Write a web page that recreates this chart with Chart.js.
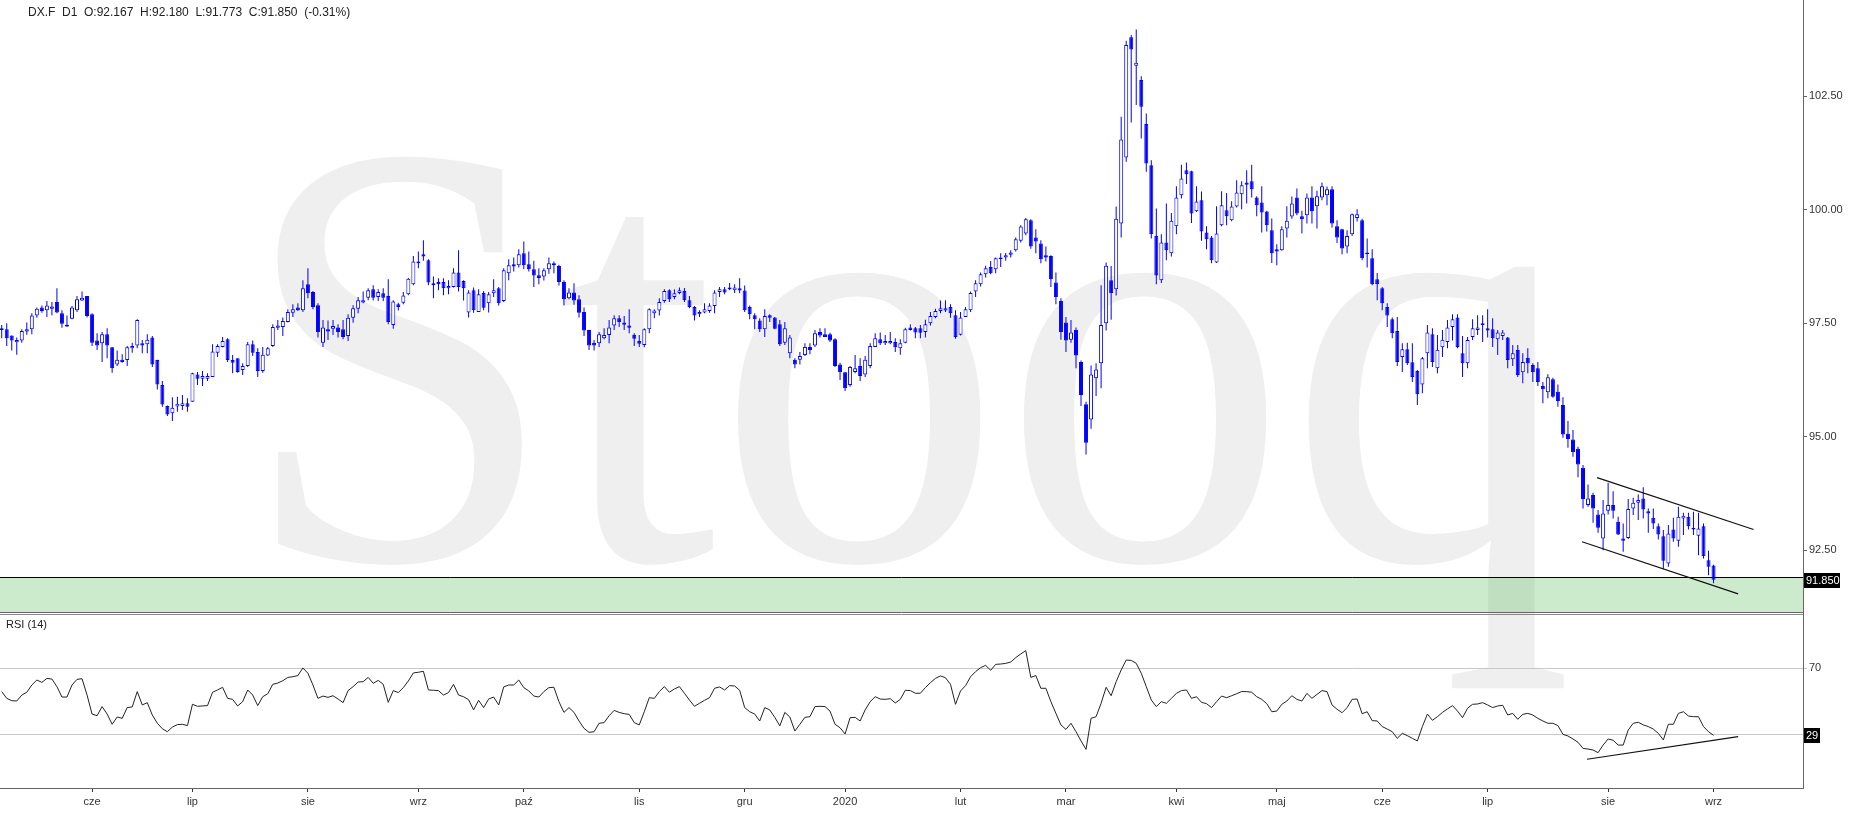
<!DOCTYPE html>
<html>
<head>
<meta charset="utf-8">
<title>DX.F D1</title>
<script src="https://cdn.jsdelivr.net/npm/chart.js@4.4.1/dist/chart.umd.min.js"></script>
<style>
  html, body { margin: 0; padding: 0; background: #fff; overflow: hidden; }
  #wrap { position: relative; width: 1863px; height: 818px; }
  #priceChart { position: absolute; left: 0; top: 0; }
  #rsiChart { position: absolute; left: 0; top: 614px; }
</style>
</head>
<body>
<div id="wrap">
  <canvas id="priceChart" width="1863" height="818"></canvas>
  <canvas id="rsiChart" width="1863" height="204"></canvas>
</div>
<script>
// DX.F daily, one value per session
const openVals = [
  97.35, 97.37, 97.23, 97.08, 97.12, 97.32, 97.37, 97.67, 97.85, 97.79,
  97.82, 97.97, 97.72, 97.43, 97.60, 97.79, 98.00, 98.10, 97.70, 97.12,
  97.06, 97.26, 96.97, 96.59, 96.70, 96.69, 96.95, 97.01, 97.06, 97.04,
  97.19, 96.69, 96.14, 95.68, 95.52, 95.67, 95.68, 95.74, 95.77, 96.37,
  96.28, 96.28, 96.32, 96.85, 96.98, 97.15, 96.69, 96.73, 96.47, 96.56,
  97.04, 96.87, 96.45, 96.79, 97.00, 97.40, 97.42, 97.53, 97.73, 97.85,
  97.79, 98.36, 98.19, 97.90, 97.07, 97.37, 97.38, 97.41, 97.37, 97.22,
  97.62, 97.82, 97.96, 98.06, 98.25, 98.08, 98.16, 98.10, 97.46, 97.92,
  97.95, 98.14, 98.36, 98.82, 99.02, 98.89, 98.34, 98.41, 98.41, 98.27,
  98.30, 98.62, 98.43, 97.74, 98.23, 97.75, 98.17, 97.94, 98.16, 98.27,
  97.99, 98.60, 98.80, 98.78, 99.04, 98.80, 98.69, 98.56, 98.53, 98.69,
  98.78, 98.76, 98.41, 98.05, 98.18, 98.03, 97.75, 97.35, 97.07, 97.06,
  97.17, 97.24, 97.45, 97.61, 97.52, 97.45, 97.25, 97.11, 97.02, 97.37,
  97.72, 97.78, 97.99, 98.23, 98.08, 98.17, 98.21, 98.01, 97.86, 97.70,
  97.74, 97.77, 97.88, 98.19, 98.25, 98.25, 98.23, 98.27, 98.22, 97.86,
  97.68, 97.56, 97.37, 97.68, 97.63, 97.48, 97.07, 96.84, 96.70, 96.70,
  96.80, 96.98, 97.01, 97.31, 97.26, 97.26, 97.15, 96.59, 96.42, 96.14,
  96.43, 96.56, 96.37, 96.56, 96.98, 97.15, 97.06, 97.06, 97.09, 96.95,
  97.07, 97.41, 97.39, 97.39, 97.31, 97.50, 97.64, 97.77, 97.78, 97.86,
  97.68, 97.25, 97.64, 97.79, 98.20, 98.36, 98.58, 98.74, 98.69, 98.91,
  98.95, 99.01, 99.11, 99.32, 99.48, 99.77, 99.39, 99.26, 99.00, 98.98,
  98.40, 97.99, 97.52, 97.14, 97.35, 96.65, 95.72, 95.38, 96.29, 96.62,
  97.50, 98.45, 98.25, 99.70, 101.15, 103.80, 103.17, 102.86, 101.89, 100.98,
  99.43, 98.45, 99.28, 99.04, 99.64, 100.32, 100.87, 100.85, 99.97, 100.21,
  99.50, 99.39, 98.84, 99.66, 99.99, 99.77, 100.07, 100.34, 100.60, 100.63,
  100.27, 100.16, 99.96, 99.55, 99.13, 99.11, 99.59, 99.85, 100.27, 99.86,
  99.88, 100.27, 100.08, 100.27, 100.32, 100.45, 99.64, 99.57, 99.19, 99.46,
  99.82, 99.77, 99.02, 98.93, 98.47, 98.27, 97.86, 97.59, 97.33, 96.76,
  96.93, 96.64, 96.45, 96.15, 96.84, 97.26, 96.51, 96.97, 97.09, 97.42,
  97.63, 96.84, 96.62, 97.20, 97.35, 97.46, 97.39, 97.37, 97.15, 97.22,
  97.19, 96.71, 96.91, 96.42, 96.74, 96.58, 96.51, 96.12, 95.98, 96.27,
  95.99, 95.70, 95.07, 94.94, 94.74, 94.32, 93.50, 93.72, 93.29, 92.76,
  93.37, 93.50, 93.13, 92.76, 92.77, 93.42, 93.55, 93.64, 93.36, 93.22,
  93.03, 92.81, 92.21, 92.96, 92.71, 93.20, 93.24, 93.00, 92.82, 93.03,
  92.28, 92.167
];
const highVals = [
  97.46, 97.50, 97.23, 97.19, 97.37, 97.52, 97.72, 97.85, 97.89, 97.99,
  97.97, 98.27, 97.79, 97.67, 97.88, 98.10, 98.20, 98.10, 97.72, 97.28,
  97.31, 97.39, 96.98, 96.90, 96.82, 97.00, 97.07, 97.59, 97.13, 97.26,
  97.22, 96.70, 96.23, 95.69, 95.87, 95.88, 95.92, 95.85, 96.41, 96.43,
  96.45, 96.40, 97.04, 97.04, 97.20, 97.17, 96.80, 96.73, 96.62, 97.09,
  97.12, 96.95, 96.98, 96.98, 97.48, 97.57, 97.63, 97.81, 97.92, 97.94,
  98.45, 98.71, 98.21, 97.94, 97.57, 97.56, 97.57, 97.48, 97.57, 97.70,
  97.90, 98.08, 98.20, 98.27, 98.34, 98.25, 98.27, 98.47, 98.01, 97.95,
  98.19, 98.50, 98.98, 99.08, 99.33, 98.91, 98.53, 98.49, 98.49, 98.45,
  98.71, 99.11, 98.45, 98.23, 98.29, 98.25, 98.21, 98.19, 98.47, 98.30,
  98.71, 98.91, 98.95, 99.13, 99.30, 99.08, 98.88, 98.71, 98.71, 98.95,
  98.86, 98.79, 98.45, 98.27, 98.38, 98.12, 97.85, 97.36, 97.13, 97.31,
  97.39, 97.57, 97.68, 97.68, 97.66, 97.81, 97.28, 97.24, 97.39, 97.83,
  97.81, 98.05, 98.25, 98.25, 98.25, 98.29, 98.28, 98.10, 97.88, 97.79,
  97.94, 97.94, 98.23, 98.30, 98.30, 98.39, 98.36, 98.49, 98.33, 97.89,
  97.72, 97.61, 97.81, 97.70, 97.64, 97.57, 97.53, 97.24, 96.73, 96.87,
  97.06, 97.06, 97.35, 97.39, 97.39, 97.29, 97.17, 96.63, 96.43, 96.56,
  96.80, 96.73, 96.78, 97.06, 97.28, 97.30, 97.24, 97.31, 97.17, 97.15,
  97.40, 97.48, 97.42, 97.46, 97.58, 97.75, 97.82, 98.00, 98.01, 97.92,
  97.79, 97.75, 97.86, 98.20, 98.45, 98.62, 98.77, 98.87, 98.95, 99.04,
  99.05, 99.11, 99.39, 99.66, 99.82, 99.79, 99.57, 99.33, 99.19, 99.00,
  98.62, 98.05, 97.64, 97.57, 97.41, 96.68, 95.77, 96.57, 96.62, 98.34,
  98.84, 98.76, 100.07, 102.05, 103.72, 103.85, 103.97, 102.94, 102.12, 101.09,
  100.03, 99.46, 100.14, 99.93, 100.52, 100.99, 101.04, 100.86, 100.52, 100.40,
  99.64, 99.42, 100.08, 100.41, 100.37, 100.19, 100.65, 100.63, 100.87, 100.99,
  100.30, 100.52, 99.98, 99.81, 99.24, 99.64, 100.08, 100.29, 100.47, 99.98,
  100.36, 100.52, 100.42, 100.60, 100.51, 100.52, 99.77, 99.58, 99.55, 99.92,
  100.01, 99.80, 99.37, 99.13, 98.61, 98.30, 97.94, 97.63, 97.64, 97.06,
  97.07, 97.06, 96.47, 96.76, 97.46, 97.39, 97.24, 97.35, 97.57, 97.70,
  97.70, 97.22, 97.20, 97.59, 97.68, 97.68, 97.81, 97.61, 97.35, 97.35,
  97.20, 97.02, 97.02, 96.84, 96.95, 96.62, 96.65, 96.21, 96.38, 96.30,
  96.15, 95.87, 95.35, 95.15, 94.78, 94.38, 93.95, 93.77, 93.39, 93.61,
  93.99, 93.80, 93.24, 93.09, 93.63, 93.66, 93.73, 93.89, 93.42, 93.42,
  93.09, 92.95, 93.06, 93.22, 93.46, 93.33, 93.33, 93.35, 93.33, 93.09,
  92.49, 92.180
];
const lowVals = [
  97.17, 97.00, 96.90, 96.81, 97.07, 97.25, 97.26, 97.62, 97.73, 97.64,
  97.68, 97.72, 97.40, 97.42, 97.59, 97.75, 97.99, 97.63, 97.00, 96.91,
  96.65, 96.73, 96.41, 96.56, 96.63, 96.56, 96.85, 96.95, 96.84, 96.84,
  96.54, 96.04, 95.66, 95.46, 95.35, 95.55, 95.59, 95.55, 95.77, 96.14,
  96.12, 96.23, 96.32, 96.76, 96.97, 96.65, 96.40, 96.41, 96.36, 96.54,
  96.78, 96.32, 96.41, 96.78, 96.98, 97.35, 97.22, 97.52, 97.64, 97.77,
  97.75, 98.05, 97.81, 97.19, 96.98, 97.13, 97.24, 97.19, 97.15, 97.11,
  97.51, 97.72, 97.94, 98.01, 98.00, 97.99, 97.99, 97.48, 97.38, 97.78,
  97.92, 98.12, 98.34, 98.71, 98.88, 98.34, 98.05, 98.23, 98.12, 98.14,
  98.29, 98.20, 98.00, 97.63, 97.73, 97.75, 97.79, 97.74, 98.08, 97.89,
  97.97, 98.45, 98.64, 98.73, 98.69, 98.64, 98.30, 98.36, 98.44, 98.59,
  98.60, 98.33, 97.89, 98.03, 97.91, 97.63, 97.22, 96.91, 96.90, 96.98,
  97.15, 97.06, 97.35, 97.42, 97.35, 97.28, 97.00, 96.98, 96.97, 97.28,
  97.61, 97.67, 97.95, 97.97, 98.03, 98.14, 97.97, 97.83, 97.56, 97.64,
  97.72, 97.73, 97.72, 98.08, 98.14, 98.23, 98.17, 98.16, 97.75, 97.59,
  97.37, 97.31, 97.20, 97.53, 97.37, 97.00, 97.02, 96.73, 96.51, 96.59,
  96.78, 96.82, 96.98, 97.19, 97.20, 97.09, 96.54, 96.25, 96.01, 96.10,
  96.40, 96.23, 96.32, 96.51, 96.98, 97.02, 97.02, 97.04, 96.87, 96.81,
  97.06, 97.34, 97.17, 97.17, 97.19, 97.45, 97.61, 97.72, 97.75, 97.62,
  97.16, 97.23, 97.64, 97.75, 98.08, 98.31, 98.51, 98.58, 98.60, 98.74,
  98.88, 98.95, 99.08, 99.28, 99.44, 99.14, 99.04, 98.82, 98.86, 98.30,
  97.92, 97.14, 96.87, 97.07, 96.51, 95.68, 94.61, 95.18, 95.90, 96.07,
  97.34, 97.58, 98.11, 99.39, 101.06, 101.92, 102.31, 101.57, 100.84, 99.37,
  98.36, 98.39, 98.89, 98.97, 99.46, 100.25, 100.57, 99.71, 99.95, 99.32,
  99.13, 98.82, 98.83, 99.64, 99.66, 99.75, 100.05, 100.01, 100.14, 100.27,
  99.86, 99.50, 99.52, 98.83, 98.78, 99.10, 99.39, 99.80, 99.88, 99.48,
  99.70, 99.70, 99.59, 100.21, 100.10, 99.61, 99.27, 99.02, 99.04, 99.42,
  99.74, 98.89, 98.73, 98.34, 98.01, 97.79, 97.42, 97.17, 96.56, 96.43,
  96.58, 96.21, 95.70, 95.96, 96.51, 96.54, 96.40, 96.76, 96.95, 97.12,
  96.95, 96.32, 96.51, 97.13, 97.24, 97.09, 97.19, 96.98, 96.80, 97.13,
  96.51, 96.56, 96.32, 96.18, 96.40, 96.21, 96.12, 95.74, 95.85, 95.86,
  95.66, 94.98, 94.76, 94.56, 94.11, 93.42, 93.46, 93.11, 92.89, 92.50,
  93.29, 93.20, 92.84, 92.47, 92.75, 93.28, 93.17, 93.20, 92.89, 92.97,
  92.74, 92.09, 92.14, 92.69, 92.58, 92.84, 92.96, 92.84, 92.39, 92.32,
  91.95, 91.773
];
const closeVals = [
  97.39, 97.17, 97.12, 97.13, 97.33, 97.37, 97.67, 97.82, 97.77, 97.89,
  97.87, 97.74, 97.49, 97.47, 97.85, 98.03, 98.06, 97.66, 97.07, 97.01,
  97.26, 97.01, 96.51, 96.70, 96.65, 96.97, 97.00, 97.57, 97.01, 97.14,
  96.59, 96.15, 95.71, 95.49, 95.64, 95.73, 95.74, 95.66, 96.40, 96.28,
  96.34, 96.34, 96.88, 97.00, 97.11, 96.69, 96.63, 96.43, 96.56, 97.04,
  96.85, 96.45, 96.81, 96.95, 97.42, 97.45, 97.55, 97.75, 97.81, 97.79,
  98.27, 98.16, 97.86, 97.31, 97.41, 97.32, 97.44, 97.31, 97.20, 97.62,
  97.83, 98.01, 98.01, 98.23, 98.06, 98.19, 98.06, 97.53, 97.98, 97.86,
  98.11, 98.48, 98.86, 98.86, 98.97, 98.40, 98.38, 98.36, 98.27, 98.32,
  98.62, 98.30, 98.27, 98.18, 97.79, 98.14, 97.84, 98.14, 98.23, 97.94,
  98.67, 98.78, 98.75, 99.02, 98.78, 98.69, 98.55, 98.50, 98.67, 98.82,
  98.82, 98.41, 98.03, 98.18, 98.00, 97.73, 97.34, 97.01, 97.01, 97.26,
  97.24, 97.41, 97.61, 97.53, 97.47, 97.40, 97.16, 97.05, 97.37, 97.81,
  97.78, 97.97, 98.21, 98.03, 98.16, 98.23, 98.01, 97.86, 97.67, 97.75,
  97.81, 97.89, 98.18, 98.25, 98.18, 98.29, 98.29, 98.22, 97.79, 97.70,
  97.59, 97.37, 97.66, 97.62, 97.38, 97.04, 97.39, 97.19, 96.59, 96.78,
  96.98, 96.91, 97.28, 97.23, 97.20, 97.12, 96.56, 96.42, 96.07, 96.54,
  96.51, 96.34, 96.70, 97.00, 97.17, 97.06, 97.11, 97.11, 96.97, 97.06,
  97.37, 97.35, 97.30, 97.29, 97.48, 97.66, 97.77, 97.83, 97.83, 97.72,
  97.20, 97.63, 97.81, 98.17, 98.38, 98.58, 98.71, 98.60, 98.93, 98.95,
  99.00, 99.06, 99.35, 99.63, 99.79, 99.19, 99.30, 98.91, 98.95, 98.47,
  98.08, 97.31, 97.12, 97.30, 96.79, 95.92, 94.87, 96.37, 96.48, 97.46,
  98.77, 98.16, 99.80, 101.55, 103.63, 103.53, 103.24, 102.27, 101.02, 99.46,
  98.55, 99.28, 99.11, 99.76, 100.27, 100.69, 100.78, 99.92, 100.18, 99.52,
  99.35, 98.89, 99.48, 100.10, 99.86, 100.07, 100.38, 100.54, 100.55, 100.45,
  100.10, 99.94, 99.66, 99.04, 99.08, 99.57, 99.76, 100.14, 99.92, 99.79,
  100.27, 99.97, 100.30, 100.52, 100.45, 99.70, 99.39, 99.15, 99.42, 99.90,
  99.90, 98.93, 99.06, 98.36, 98.36, 97.94, 97.67, 97.28, 96.65, 96.93,
  96.62, 96.32, 95.94, 96.73, 97.30, 96.65, 96.92, 97.14, 97.41, 97.59,
  96.98, 96.62, 97.13, 97.39, 97.41, 97.50, 97.34, 97.17, 97.30, 97.30,
  96.69, 96.84, 96.36, 96.65, 96.62, 96.42, 96.21, 96.05, 96.31, 95.88,
  95.79, 95.05, 94.95, 94.66, 94.39, 93.63, 93.64, 93.42, 93.00, 93.31,
  93.50, 93.37, 92.85, 92.71, 93.41, 93.55, 93.61, 93.40, 93.31, 93.09,
  92.85, 92.27, 92.87, 92.76, 93.24, 93.26, 93.03, 92.96, 92.98, 92.37,
  92.14, 91.850
];
// RSI(14), one value per session
const rsiVals = [
  55.9, 51.8, 50.4, 50.2, 53.8, 55.5, 59.9, 62.9, 61.5, 63.9,
  63.5, 58.9, 52.6, 52.6, 59.9, 63.3, 63.7, 53.8, 42.3, 41.3,
  46.8, 42.3, 36.1, 40.5, 39.7, 46.2, 46.6, 55.9, 47.8, 49.2,
  41.7, 36.7, 33.4, 31.6, 34.4, 35.9, 36.1, 35.3, 48.2, 47.0,
  47.2, 47.4, 55.5, 56.9, 58.5, 51.8, 51.2, 47.2, 49.8, 56.9,
  53.8, 47.4, 52.8, 54.6, 60.3, 61.1, 62.5, 64.5, 64.9, 65.6,
  70.2, 67.0, 59.9, 51.8, 53.2, 52.4, 53.4, 51.4, 49.2, 56.5,
  58.9, 61.7, 61.9, 64.5, 60.9, 62.7, 60.3, 49.4, 56.5, 55.3,
  58.3, 62.3, 67.2, 67.6, 68.2, 56.9, 56.7, 56.5, 53.8, 55.3,
  60.3, 53.8, 52.8, 51.0, 44.8, 50.6, 46.2, 51.4, 52.6, 47.8,
  58.7, 59.9, 59.9, 62.9, 58.3, 56.3, 53.2, 52.6, 55.9, 58.3,
  58.5, 49.8, 43.3, 46.2, 43.3, 38.1, 33.6, 31.2, 31.6, 36.7,
  37.1, 41.3, 44.5, 43.3, 42.5, 42.1, 37.1, 35.7, 43.7, 52.2,
  51.8, 55.9, 58.9, 55.5, 57.5, 58.9, 54.9, 50.8, 47.0, 48.8,
  50.6, 52.2, 57.9, 58.7, 56.9, 59.5, 59.3, 56.7, 46.2, 43.7,
  42.3, 38.1, 46.2, 44.8, 40.3, 35.1, 43.3, 40.5, 32.0, 36.1,
  40.3, 40.7, 46.8, 47.0, 46.8, 44.1, 36.1, 34.0, 30.2, 40.1,
  40.3, 38.1, 44.8, 49.8, 52.8, 51.4, 51.2, 51.6, 49.0, 51.2,
  56.7, 56.5, 54.9, 54.9, 58.3, 61.3, 63.9, 65.4, 64.3, 60.3,
  48.2, 56.3, 59.5, 64.9, 68.0, 70.4, 71.8, 68.8, 72.4, 72.6,
  73.0, 73.8, 76.5, 78.7, 80.7, 64.5, 65.6, 57.9, 57.9, 49.8,
  42.7, 35.7, 33.0, 36.7, 31.6, 26.0, 20.9, 39.7, 40.7, 48.8,
  58.5, 53.4, 61.9, 69.0, 75.0, 74.8, 73.0, 67.0, 58.9, 50.8,
  46.8, 49.8, 48.8, 51.8, 54.8, 56.5, 56.9, 51.8, 52.8, 49.4,
  48.6, 46.2, 49.8, 53.2, 52.2, 53.4, 54.6, 55.9, 55.9, 55.5,
  52.8, 51.2, 48.6, 43.7, 44.1, 48.2, 50.2, 53.4, 51.2, 50.2,
  54.8, 51.8, 54.2, 56.5, 55.9, 47.8, 45.2, 43.1, 46.2, 51.2,
  51.4, 42.5, 43.7, 38.3, 38.1, 34.7, 33.2, 31.6, 27.6, 30.6,
  29.2, 27.6, 26.0, 34.7, 42.3, 38.5, 40.7, 43.3, 45.4, 47.4,
  44.1, 40.1, 45.8, 48.2, 48.4, 49.2, 47.8, 46.2, 47.2, 47.6,
  41.7, 42.7, 39.1, 42.1, 42.7, 41.7, 39.7, 38.1, 36.7, 36.7,
  35.3, 30.0, 29.0, 27.2, 25.2, 21.5, 21.1, 20.5, 18.9, 23.5,
  27.2, 26.4, 23.5, 23.5, 32.6, 36.7, 37.3, 35.7, 34.7, 33.2,
  30.6, 26.6, 36.1, 36.1, 42.7, 43.7, 41.1, 40.7, 40.7, 34.7,
  31.6, 29.4
];

// month ticks: session index of the first bar of each month
const monthIdx = [18, 38, 61, 83, 104, 127, 148, 168, 191, 212, 234, 254, 275, 296, 320, 341];
const monthLabels = ['cze', 'lip', 'sie', 'wrz', 'paź', 'lis', 'gru', '2020', 'lut', 'mar', 'kwi', 'maj', 'cze', 'lip', 'sie', 'wrz'];
const priceTicks = [92.5, 95, 97.5, 100, 102.5];
const rsiTicks = [30, 70];

// drawn objects: support zone and trend lines, as [session, value]
const supportZone = [91.15, 91.91];
const channelTop = [[317.8, 94.10], [348.97, 92.96]];
const channelBottom = [[314.8, 92.69], [345.9, 91.54]];
const rsiTrend = [[315.8, 14.9], [345.9, 28.6]];

const X_MIN = -0.34, X_MAX = 358.82;
const PRICE_MIN = 91.12, PRICE_MAX = 104.62;
const RSI_MIN = -2.5, RSI_MAX = 102.9;

const BLUE = '#0000ff';
const FONT = '"Liberation Sans", Arial, sans-serif';
const TEXT = '#333';

const idx = closeVals.map((_, i) => i);
const lastI = closeVals.length - 1;
const lastClose = closeVals[lastI];
const lastRsi = rsiVals[lastI];
const chg = (lastClose - closeVals[lastI - 1]) / closeVals[lastI - 1] * 100;

const wickData = idx.map(i => ({ x: i, y: [lowVals[i], highVals[i]] }));
const bodyData = idx.map(i => ({ x: i, y: [openVals[i], closeVals[i]] }));
const bodyFill = idx.map(i => closeVals[i] >= openVals[i] ? '#ffffff' : BLUE);
const toXY = pts => pts.map(p => ({ x: p[0], y: p[1] }));

const pricePanel = {
  id: 'pricePanel',
  beforeDraw(chart) {
    const ctx = chart.ctx;
    ctx.save();
    ctx.fillStyle = '#efefef';
    ctx.font = '100px "Liberation Serif", "DejaVu Serif", serif';
    const capH = ctx.measureText('S').actualBoundingBoxAscent;
    ctx.font = (401 / capH * 100).toFixed(1) + 'px "Liberation Serif", "DejaVu Serif", serif';
    const m = ctx.measureText('Stooq');
    const inkW = m.actualBoundingBoxLeft + m.actualBoundingBoxRight;
    ctx.translate(275, 559);
    ctx.scale(1290 / inkW, 1);
    ctx.textBaseline = 'alphabetic';
    ctx.fillText('Stooq', m.actualBoundingBoxLeft, 0);
    ctx.restore();
  },
  beforeDatasetsDraw(chart) {
    const { ctx, chartArea: a, scales: { y } } = chart;
    const yTop = Math.round(y.getPixelForValue(supportZone[1])) + 0.5;
    const yBot = Math.round(y.getPixelForValue(supportZone[0])) + 0.5;
    ctx.save();
    ctx.fillStyle = 'rgba(40,170,40,0.24)';
    ctx.fillRect(a.left, yTop, a.right - a.left, yBot - yTop);
    ctx.lineWidth = 1;
    ctx.strokeStyle = '#000';
    ctx.beginPath(); ctx.moveTo(a.left, yTop); ctx.lineTo(a.right, yTop); ctx.stroke();
    ctx.strokeStyle = '#666';
    ctx.beginPath(); ctx.moveTo(a.left, yBot); ctx.lineTo(a.right, yBot); ctx.stroke();
    ctx.restore();
  },
  afterDraw(chart) {
    const { ctx, chartArea: a, scales: { y } } = chart;
    ctx.save();
    ctx.font = '12px ' + FONT;
    ctx.fillStyle = '#222';
    ctx.textBaseline = 'middle';
    const title = 'DX.F  D1  O:' + openVals[lastI].toFixed(3) + '  H:' + highVals[lastI].toFixed(3) +
      '  L:' + lowVals[lastI].toFixed(3) + '  C:' + lastClose.toFixed(3) + '  (' + chg.toFixed(2) + '%)';
    ctx.fillText(title, 28, 13);
    // last price tag
    const py = y.getPixelForValue(lastClose);
    ctx.fillStyle = '#000';
    ctx.fillRect(a.right + 1, Math.round(py) - 7, 36, 15);
    ctx.fillStyle = '#fff';
    ctx.font = '11px ' + FONT;
    ctx.fillText(lastClose.toFixed(3), a.right + 3, Math.round(py) + 0.5);
    ctx.restore();
  }
};

const rsiPanel = {
  id: 'rsiPanel',
  afterDraw(chart) {
    const { ctx, chartArea: a, scales: { y } } = chart;
    ctx.save();
    ctx.strokeStyle = '#888';
    ctx.lineWidth = 1;
    ctx.beginPath(); ctx.moveTo(a.left, 0.5); ctx.lineTo(a.right, 0.5); ctx.stroke();
    ctx.font = '11px ' + FONT;
    ctx.fillStyle = '#222';
    ctx.textBaseline = 'middle';
    ctx.fillText('RSI (14)', 6, 11);
    const ry = Math.round(y.getPixelForValue(lastRsi));
    ctx.fillStyle = '#000';
    ctx.fillRect(a.right + 1, ry - 7, 16, 15);
    ctx.fillStyle = '#fff';
    ctx.fillText(String(Math.round(lastRsi)), a.right + 3, ry + 0.5);
    ctx.restore();
  }
};

new Chart(document.getElementById('priceChart'), {
  type: 'bar',
  data: {
    datasets: [
      { label: 'wick', data: wickData, backgroundColor: BLUE, borderWidth: 0,
        barThickness: 1, inflateAmount: 0, grouped: false, order: 3 },
      { label: 'DX.F', data: bodyData, backgroundColor: bodyFill, borderColor: BLUE,
        borderWidth: 1, borderSkipped: false, barThickness: 4, minBarLength: 1,
        inflateAmount: 0, grouped: false, order: 2 },
      { type: 'line', label: 'channel top', data: toXY(channelTop), borderColor: '#111',
        borderWidth: 1.2, pointRadius: 0, order: 1 },
      { type: 'line', label: 'channel bottom', data: toXY(channelBottom), borderColor: '#111',
        borderWidth: 1.2, pointRadius: 0, order: 1 }
    ]
  },
  options: {
    responsive: false,
    animation: false,
    layout: { padding: { left: 0, right: 0, top: 0, bottom: 205 } },
    plugins: { legend: { display: false }, tooltip: { enabled: false } },
    scales: {
      x: { type: 'linear', min: X_MIN, max: X_MAX, offset: false, display: false },
      y: {
        position: 'right', min: PRICE_MIN, max: PRICE_MAX,
        afterBuildTicks: s => { s.ticks = priceTicks.map(v => ({ value: v })); },
        afterFit: s => { s.width = 60; s.paddingTop = 0; s.paddingBottom = 0; },
        ticks: { callback: v => v.toFixed(2), font: { family: FONT, size: 11 }, color: TEXT, padding: 2 },
        grid: { drawOnChartArea: false, drawTicks: true, tickLength: 4, color: '#666' },
        border: { display: true, color: '#666' }
      }
    }
  },
  plugins: [pricePanel]
});

new Chart(document.getElementById('rsiChart'), {
  type: 'line',
  data: {
    datasets: [
      { label: 'RSI (14)', data: idx.map(i => ({ x: i, y: rsiVals[i] })), borderColor: '#222',
        borderWidth: 1, pointRadius: 0, tension: 0 },
      { label: 'trend', data: toXY(rsiTrend), borderColor: '#111', borderWidth: 1.2, pointRadius: 0 }
    ]
  },
  options: {
    responsive: false,
    animation: false,
    layout: { padding: 0 },
    plugins: { legend: { display: false }, tooltip: { enabled: false } },
    scales: {
      x: {
        type: 'linear', min: X_MIN, max: X_MAX, offset: false, position: 'bottom',
        afterBuildTicks: s => { s.ticks = monthIdx.map(v => ({ value: v })); },
        afterFit: s => { s.height = 30; s.paddingLeft = 0; s.paddingRight = 0; },
        ticks: {
          autoSkip: false, maxRotation: 0, padding: 3, color: TEXT,
          font: { family: FONT, size: 11 },
          callback: v => { const k = monthIdx.indexOf(v); return k < 0 ? '' : monthLabels[k]; }
        },
        grid: { drawOnChartArea: false, drawTicks: true, tickLength: 4, color: '#333' },
        border: { display: true, color: '#666' }
      },
      y: {
        position: 'right', min: RSI_MIN, max: RSI_MAX,
        afterBuildTicks: s => { s.ticks = rsiTicks.map(v => ({ value: v })); },
        afterFit: s => { s.width = 60; s.paddingTop = 0; s.paddingBottom = 0; },
        ticks: {
          font: { family: FONT, size: 11 }, color: TEXT, padding: 2,
          callback: v => Math.abs(v - lastRsi) < 5 ? '' : String(v)
        },
        grid: { color: '#c8c8c8', drawTicks: true, tickLength: 4 },
        border: { display: true, color: '#666' }
      }
    }
  },
  plugins: [rsiPanel]
});
</script>
</body>
</html>
